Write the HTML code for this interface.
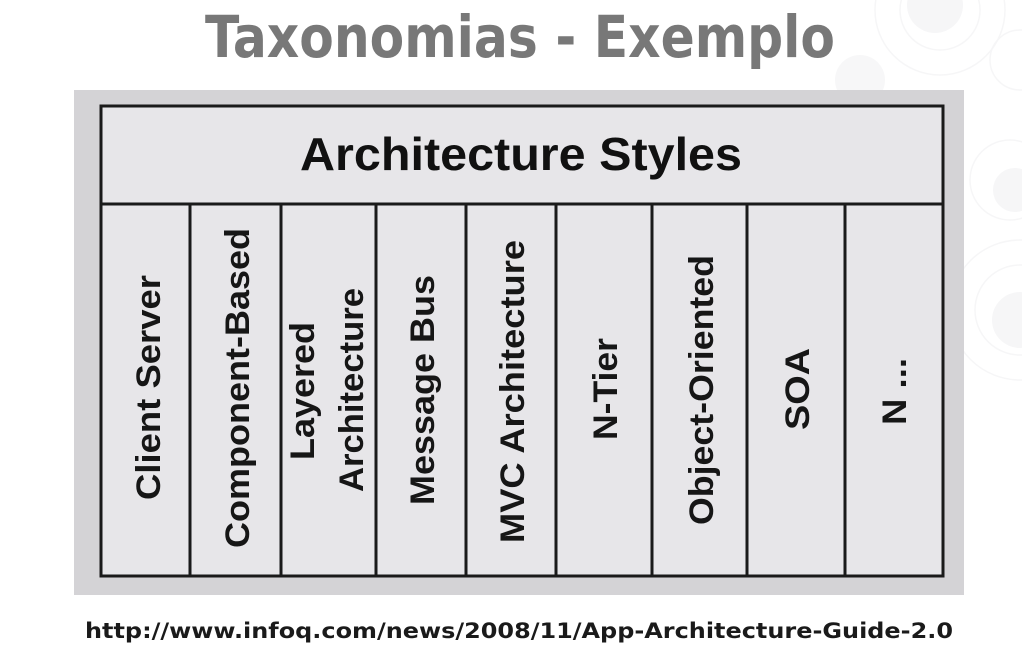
<!DOCTYPE html>
<html><head><meta charset="utf-8"><style>
html,body{margin:0;padding:0;background:#fff;}
svg{display:block;}
</style></head><body>
<svg width="1022" height="662" viewBox="0 0 1022 662" xmlns="http://www.w3.org/2000/svg">
<rect width="1022" height="662" fill="#ffffff"/>
<g fill="none" stroke="#f6f6f7" stroke-width="1.5">
<circle cx="940" cy="10" r="40"/><circle cx="940" cy="10" r="65"/>
<circle cx="1020" cy="60" r="30"/><circle cx="1010" cy="180" r="40"/>
<circle cx="1020" cy="310" r="45"/><circle cx="1020" cy="310" r="70"/>
</g>
<circle cx="935" cy="5" r="28" fill="#f6f6f7"/>
<circle cx="860" cy="80" r="25" fill="#f7f7f8"/>
<circle cx="1015" cy="190" r="22" fill="#f6f6f7"/>
<circle cx="1020" cy="320" r="28" fill="#f6f6f7"/>
<text x="205" y="57" font-family="DejaVu Sans, Liberation Sans, sans-serif" font-weight="bold" font-size="58" fill="#787878" textLength="630" lengthAdjust="spacingAndGlyphs">Taxonomias - Exemplo</text>
<rect x="74" y="90" width="890" height="505" fill="#d4d3d6"/>
<rect x="101" y="106" width="842" height="470" fill="#e7e6e9" stroke="#1a1a1a" stroke-width="3"/>
<line x1="101" y1="204" x2="943" y2="204" stroke="#1a1a1a" stroke-width="3"/>
<g stroke="#1a1a1a" stroke-width="3">
<line x1="190" y1="204" x2="190" y2="576"/><line x1="281" y1="204" x2="281" y2="576"/>
<line x1="376" y1="204" x2="376" y2="576"/><line x1="466" y1="204" x2="466" y2="576"/>
<line x1="556" y1="204" x2="556" y2="576"/><line x1="652" y1="204" x2="652" y2="576"/>
<line x1="747" y1="204" x2="747" y2="576"/><line x1="845" y1="204" x2="845" y2="576"/>
</g>
<text x="300" y="170" font-family="Liberation Sans, sans-serif" font-weight="bold" font-size="46" fill="#111" textLength="442" lengthAdjust="spacingAndGlyphs">Architecture Styles</text>
<g font-family="Liberation Sans, sans-serif" font-weight="bold" font-size="34" fill="#161616">
<text transform="translate(160,500) rotate(-90)" textLength="225" lengthAdjust="spacingAndGlyphs">Client Server</text>
<text transform="translate(249,548) rotate(-90)" textLength="320" lengthAdjust="spacingAndGlyphs">Component-Based</text>
<text transform="translate(314,460) rotate(-90)" textLength="138" lengthAdjust="spacingAndGlyphs">Layered</text>
<text transform="translate(363,492) rotate(-90)" textLength="204" lengthAdjust="spacingAndGlyphs">Architecture</text>
<text transform="translate(434,505) rotate(-90)" textLength="230" lengthAdjust="spacingAndGlyphs">Message Bus</text>
<text transform="translate(524,543) rotate(-90)" textLength="303" lengthAdjust="spacingAndGlyphs">MVC Architecture</text>
<text transform="translate(617,440) rotate(-90)" textLength="102" lengthAdjust="spacingAndGlyphs">N-Tier</text>
<text transform="translate(713,525) rotate(-90)" textLength="270" lengthAdjust="spacingAndGlyphs">Object-Oriented</text>
<text transform="translate(809,430) rotate(-90)" textLength="82" lengthAdjust="spacingAndGlyphs">SOA</text>
<text transform="translate(906,425) rotate(-90)" textLength="67" lengthAdjust="spacingAndGlyphs">N ...</text>
</g>
<text x="85" y="638" font-family="DejaVu Sans, Liberation Sans, sans-serif" font-weight="bold" font-size="21" fill="#1a1a1a" textLength="868" lengthAdjust="spacingAndGlyphs">http://www.infoq.com/news/2008/11/App-Architecture-Guide-2.0</text>
</svg>
</body></html>
